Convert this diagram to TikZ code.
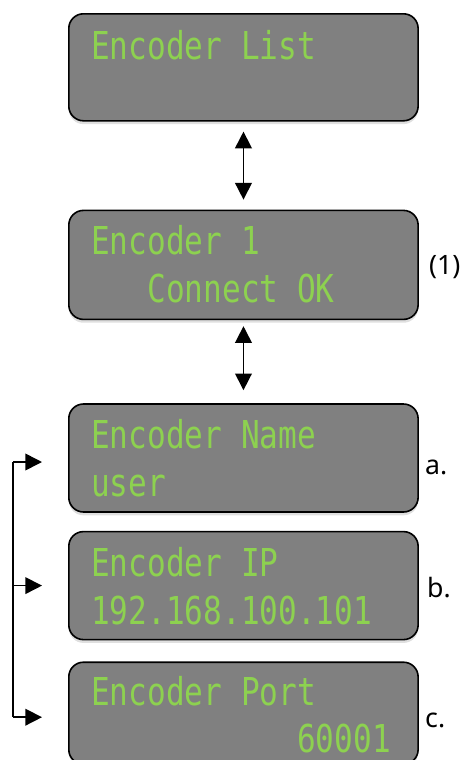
\documentclass[tikz,border=0pt]{standalone}
\usepackage{fontspec}
\usepackage{xcolor}
\usepackage{tikz}
\usetikzlibrary{arrows.meta,shadows,positioning,calc}
\newfontfamily\lcdfont[FakeStretch=0.81]{DejaVu Sans Mono}
\newfontfamily\tagfont{Noto Sans}
\definecolor{lcdgreen}{RGB}{141,209,80}
\definecolor{lcdgray}{RGB}{128,128,128}

\begin{document}
\begin{tikzpicture}[
  lcd/.style={rectangle, draw, line width=1.2pt, fill=lcdgray, minimum width=262pt, minimum height=81pt, inner sep=0pt, rounded corners=11pt, drop shadow={shadow xshift=0pt, shadow yshift=-2.5pt, opacity=0.25}},
  lcdtext/.style={anchor=base west, inner sep=0pt, text=lcdgreen, font=\lcdfont\fontsize{28.8pt}{36pt}\selectfont},
  sidetag/.style={anchor=base west, inner sep=0pt, font=\tagfont\fontsize{20pt}{24pt}\selectfont},
  biarrow/.style={{Triangle[length=12.5pt,width=12.5pt]}-{Triangle[length=12.5pt,width=12.5pt]}, line width=1.2pt},
  onearrow/.style={-{Triangle[length=12.5pt,width=12.5pt]}, line width=1.2pt},
  rail/.style={line width=1.2pt}
]
\useasboundingbox (0,0) rectangle (348pt,-570pt);

% Menu screens
\node[lcd, anchor=north west, minimum height=80.25pt] (list) at (51pt,-9.75pt) {};
\node[lcd, below=66pt of list, minimum height=81.75pt] (conn) {};
\node[lcd, below=62.25pt of conn] (name) {};
\node[lcd, below=13.5pt of name] (ip) {};
\node[lcd, below=15.75pt of ip, minimum height=76.5pt] (port) {};

% Screen texts
\node[lcdtext] (listtop) at ($(list.north west)+(17.25pt,-35pt)$) {Encoder List};
\node[lcdtext] (conntop) at ($(conn.north west)+(17.25pt,-34pt)$) {Encoder 1};
\node[lcdtext] (connbot) at ($(conntop.base west)+(0,-36pt)$) {\phantom{Enc}Connect OK};
\node[lcdtext] (nametop) at ($(name.north west)+(17.25pt,-34pt)$) {Encoder Name};
\node[lcdtext] (namebot) at ($(nametop.base west)+(0,-36pt)$) {user};
\node[lcdtext] (iptop) at ($(ip.north west)+(17.25pt,-34.5pt)$) {Encoder IP};
\node[lcdtext] (ipbot) at ($(iptop.base west)+(0,-36pt)$) {192.168.100.101};
\node[lcdtext] (porttop) at ($(port.north west)+(17.25pt,-33pt)$) {Encoder Port};
\node[lcdtext] (portbot) at ($(porttop.base west)+(0,-35.5pt)$) {\phantom{00000000000}60001};

% Side marks
\node[sidetag] (tagone) at ($(conn.east)+(7.5pt,-7pt)$) {(1)};
\node[sidetag] (taga) at ($(name.east)+(4.5pt,-12pt)$) {a.};
\node[sidetag] (tagb) at ($(ip.east)+(6pt,-9pt)$) {b.};
\node[sidetag] (tagc) at ($(port.east)+(4.5pt,-11pt)$) {c.};

% Arrows between screens
\draw[biarrow, shorten <=7.5pt, shorten >=7.5pt] (list) -- (conn);
\draw[biarrow, shorten <=4.5pt, shorten >=9.75pt] (conn) -- (name);

% Left bracket
\coordinate (railtop) at ($(name.west)+(-41.25pt,-3pt)$);
\coordinate (railbot) at ($(port.west)+(-41.25pt,-3pt)$);
\draw[rail] (railtop) -- (railbot);
\draw[onearrow, shorten >=19.5pt] (railtop) -- (railtop -| name.west);
\draw[onearrow, shorten >=19.5pt] (railtop |- ip.west) -- (ip.west);
\draw[onearrow, shorten >=19.5pt] (railbot) -- (railbot -| port.west);

\end{tikzpicture}
\end{document}
